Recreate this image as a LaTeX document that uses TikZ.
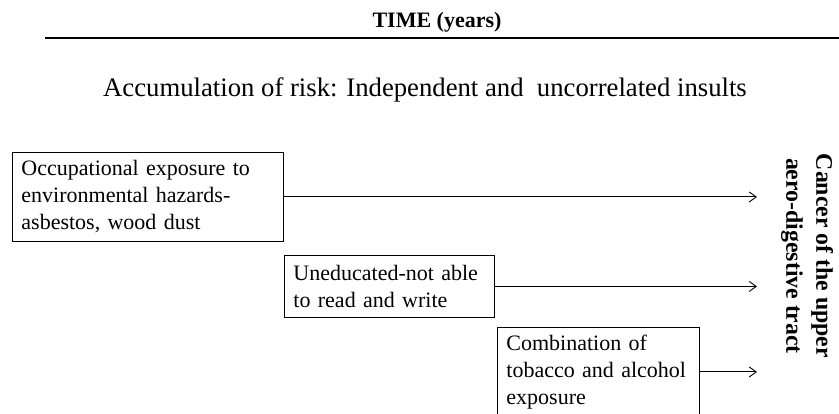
\documentclass[tikz,border=0pt]{standalone}
\usepackage{fontspec}
\setmainfont{Liberation Serif}
\usetikzlibrary{shapes,arrows.meta}

\begin{document}
\begin{tikzpicture}[x=1pt,y=-1pt,
  factor/.style={draw, line width=0.9pt, anchor=north west, align=left,
    inner xsep=9pt, minimum height=89pt, font=\fontsize{22}{27}\selectfont},
  risk/.style={line width=0.9pt, -{Straight Barb[length=7pt,width=10pt]}}]
  \useasboundingbox (0,0) rectangle (839,414);
  % time axis
  \node[anchor=base, font=\bfseries\fontsize{22}{26}\selectfont] (time) at (437,28) {TIME (years)};
  \coordinate (rulel) at (45,38);
  \coordinate (ruler) at (839,38);
  \draw[line width=1.6pt] (rulel) -- (ruler);
  \node[anchor=base, font=\fontsize{26.7}{32}\selectfont] (accum) at (425,97)
    {Accumulation of risk: Independent and\ \ uncorrelated insults};
  % insults
  \node[factor, text width=253pt] (occup) at (12,152)
    {Occupational exposure to\\environmental hazards-\\asbestos, wood dust};
  \node[factor, text width=192pt, minimum height=62pt] (educ) at (284,255)
    {Uneducated-not able\\to read and write};
  \node[factor, text width=184pt] (combo) at (497,327)
    {Combination of\\tobacco and alcohol\\exposure};
  % outcome
  \coordinate (tip) at (757,0);
  \node[rotate=-90, align=center, font=\bfseries\fontsize{23.8}{30}\selectfont] (cancer) at (807,256)
    {Cancer of the upper\\aero-digestive tract};
  \draw[risk] (occup.east) -- (occup.east -| tip);
  \draw[risk] (educ.east) -- (educ.east -| tip);
  \draw[risk] (combo.east) -- (combo.east -| tip);
\end{tikzpicture}
\end{document}
